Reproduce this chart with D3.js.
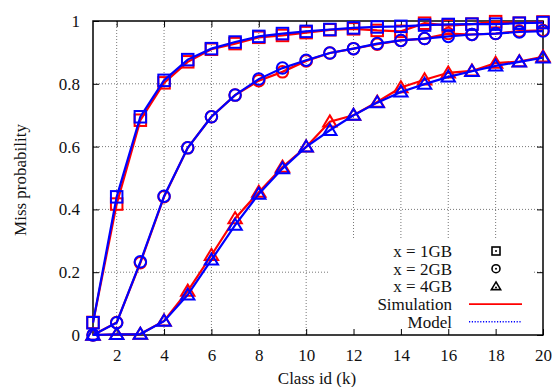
<!DOCTYPE html>
<html>
<head>
<meta charset="utf-8">
<script src="https://cdn.jsdelivr.net/npm/d3@7"></script>
<style>
  body { margin: 0; background: #fff; }
  svg text { font-family: "Liberation Serif", "Times New Roman", serif; fill: #111; }
</style>
</head>
<body>
<div id="chart"></div>
<script>
// class ids
var classIds = [1,2,3,4,5,6,7,8,9,10,11,12,13,14,15,16,17,18,19,20];

// simulation (red) / model (blue) values
var sim1GB = [0.04,0.417,0.684,0.803,0.87,0.91,0.928,0.948,0.954,0.963,0.972,0.975,0.97,0.967,0.993,0.985,0.99,0.998,0.993,0.997];
var mod1GB = [0.039,0.44,0.695,0.811,0.877,0.912,0.933,0.951,0.96,0.967,0.973,0.978,0.981,0.983,0.987,0.989,0.99,0.99,0.993,0.995];
var sim2GB = [0,0.04,0.23,0.44,0.596,0.695,0.764,0.81,0.838,0.873,0.898,0.912,0.926,0.938,0.944,0.96,0.957,0.96,0.968,0.97];
var mod2GB = [0,0.039,0.233,0.442,0.596,0.695,0.764,0.815,0.85,0.875,0.898,0.912,0.928,0.938,0.944,0.951,0.957,0.96,0.965,0.968];
var sim4GB = [0,0.002,0.003,0.045,0.14,0.254,0.371,0.455,0.535,0.599,0.679,0.7,0.742,0.788,0.813,0.835,0.841,0.866,0.871,0.886];
var mod4GB = [0,0.002,0.003,0.044,0.128,0.239,0.35,0.449,0.53,0.599,0.652,0.7,0.74,0.774,0.799,0.822,0.84,0.857,0.87,0.883];

var xTicks = [2,4,6,8,10,12,14,16,18,20];
var yTicks = [0,0.2,0.4,0.6,0.8,1];

var width = 555, height = 387;
var pLeft = 93, pRight = 543, pTop = 21, pBottom = 335;
var serif = "'Liberation Serif', 'Times New Roman', serif";

var svg = d3.select("#chart").append("svg")
  .attr("width", width).attr("height", height);

var x = d3.scaleLinear().domain([1, 20]).range([pLeft, pRight]);
var y = d3.scaleLinear().domain([0, 1]).range([pBottom, pTop]);

// grid
var grid = svg.append("g").attr("class", "grid");
grid.selectAll("line.gx").data(xTicks.filter(function(d) { return d < 20; })).enter()
  .append("line")
  .attr("x1", function(d) { return x(d); }).attr("x2", function(d) { return x(d); })
  .attr("y1", pTop).attr("y2", pBottom);
grid.selectAll("line.gy").data(yTicks.filter(function(d) { return d > 0 && d < 1; })).enter()
  .append("line")
  .attr("x1", pLeft).attr("x2", pRight)
  .attr("y1", function(d) { return y(d); }).attr("y2", function(d) { return y(d); });
grid.selectAll("line")
  .attr("stroke", "#777").attr("stroke-width", 1).attr("stroke-dasharray", "1,2");

// legend background covers the grid
svg.append("rect")
  .attr("x", 330).attr("y", 240).attr("width", 203).attr("height", pBottom - 240)
  .attr("fill", "#fff");

// axes with inward ticks, mirrored
var xAxis = d3.axisBottom(x).tickValues(xTicks).tickSize(-6).tickPadding(14);
var yAxis = d3.axisLeft(y).tickValues(yTicks).tickSize(-6).tickPadding(13)
  .tickFormat(function(d) { return d === 0 || d === 1 ? d : d3.format(".1f")(d); });

svg.append("g").attr("transform", "translate(0," + pBottom + ")").call(xAxis);
svg.append("g").attr("transform", "translate(" + pLeft + ",0)").call(yAxis);
svg.append("g").attr("transform", "translate(0," + pTop + ")")
  .call(d3.axisTop(x).tickValues(xTicks).tickSize(-6).tickFormat(""));
svg.append("g").attr("transform", "translate(" + pRight + ",0)")
  .call(d3.axisRight(y).tickValues(yTicks).tickSize(-6).tickFormat(""));
svg.selectAll(".domain").remove();
svg.selectAll(".tick line").attr("stroke", "#000").attr("stroke-width", 1);
svg.selectAll(".tick text")
  .style("font-family", serif).style("font-size", "17px").attr("fill", "#111");

svg.append("rect")
  .attr("x", pLeft).attr("y", pTop).attr("width", pRight - pLeft).attr("height", pBottom - pTop)
  .attr("fill", "none").attr("stroke", "#000").attr("stroke-width", 1.5);

// series
var series = [
  { vals: sim1GB, color: "#ff0000", shape: "square" },
  { vals: sim2GB, color: "#ff0000", shape: "circle" },
  { vals: sim4GB, color: "#ff0000", shape: "triangle" },
  { vals: mod1GB, color: "#0000ff", shape: "square" },
  { vals: mod2GB, color: "#0000ff", shape: "circle" },
  { vals: mod4GB, color: "#0000ff", shape: "triangle" }
];

var line = d3.line()
  .x(function(d, i) { return x(classIds[i]); })
  .y(function(d) { return y(d); });

function drawMarker(g, shape, cx, cy, s, color, sw) {
  var m;
  if (shape === "square") {
    m = g.append("rect").attr("x", cx - s / 2).attr("y", cy - s / 2)
      .attr("width", s).attr("height", s);
  } else if (shape === "circle") {
    m = g.append("circle").attr("cx", cx).attr("cy", cy).attr("r", s / 2);
  } else {
    var h = s * 0.9;
    m = g.append("path").attr("d",
      "M" + cx + "," + (cy - h * 0.62) +
      "L" + (cx + s * 0.58) + "," + (cy + h * 0.45) +
      "L" + (cx - s * 0.58) + "," + (cy + h * 0.45) + "Z");
  }
  m.attr("fill", "none").attr("stroke", color).attr("stroke-width", sw);
}

series.forEach(function(s) {
  var g = svg.append("g");
  g.append("path").datum(s.vals)
    .attr("d", line).attr("fill", "none")
    .attr("stroke", s.color).attr("stroke-width", 2.2);
  s.vals.forEach(function(v, i) {
    drawMarker(g, s.shape, x(classIds[i]), y(v), 11.5, s.color, 2);
  });
});

// legend
var legendLabels = ["x = 1GB", "x = 2GB", "x = 4GB", "Simulation", "Model"];
var legendShapes = ["square", "circle", "triangle"];
var lg = svg.append("g");
legendLabels.forEach(function(t, i) {
  var ly = 251 + i * 17.7;
  lg.append("text").attr("x", 452).attr("y", ly + 6)
    .attr("text-anchor", "end").style("font-family", serif).style("font-size", "17px").text(t);
  if (i < 3) {
    var mg = lg.append("g");
    drawMarker(mg, legendShapes[i], 496, ly, 8, "#000", 1.6);
    mg.append("circle").attr("cx", 496).attr("cy", ly + (i === 2 ? 1 : 0)).attr("r", 1).attr("fill", "#000");
  } else {
    lg.append("line").attr("x1", 469).attr("x2", 522)
      .attr("y1", ly).attr("y2", ly)
      .attr("stroke", i === 3 ? "#ff0000" : "#0000ff")
      .attr("stroke-width", i === 3 ? 1.6 : 1.4)
      .attr("stroke-dasharray", i === 3 ? null : "1.2,1.6");
  }
});

// axis labels
svg.append("text").attr("x", 317).attr("y", 384).attr("text-anchor", "middle")
  .style("font-family", serif).style("font-size", "17px").text("Class id (k)");
svg.append("text").attr("transform", "translate(26,180) rotate(-90)")
  .attr("text-anchor", "middle").style("font-family", serif).style("font-size", "17px")
  .text("Miss probability");
</script>
</body>
</html>
